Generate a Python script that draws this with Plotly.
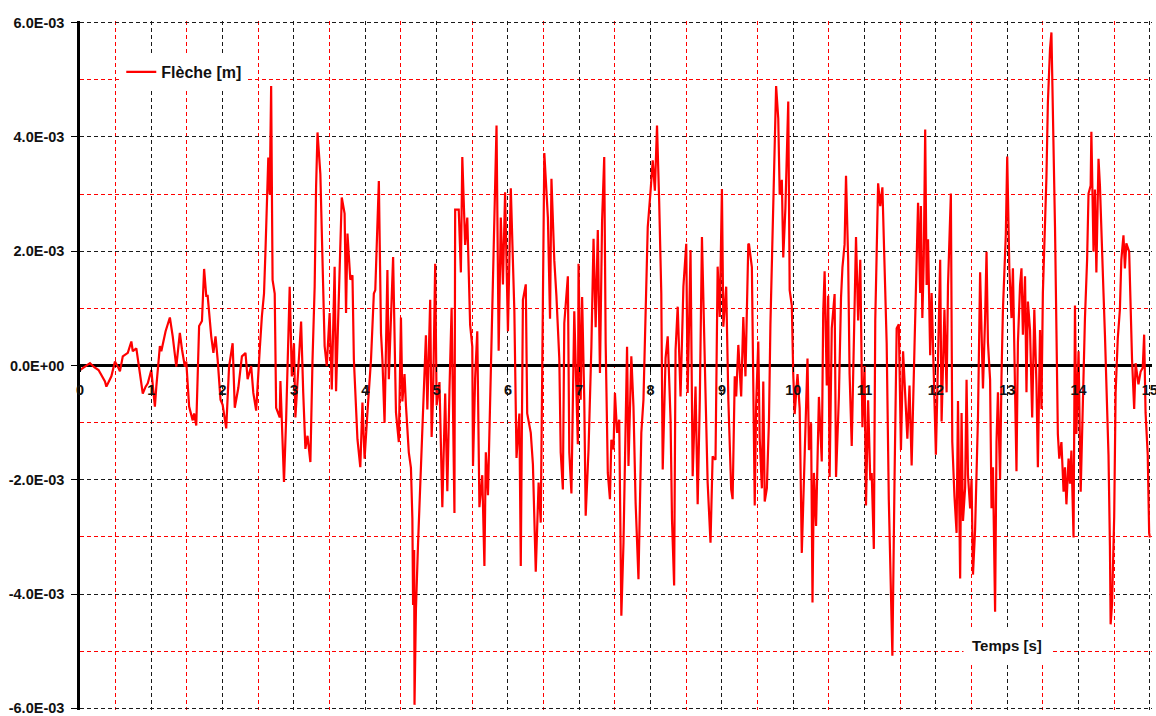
import numpy as np
import plotly.graph_objects as go

# Time [s] and deflection (Flèche) in units of 1E-3 m
TIME_S = [
 0,0.14,0.2,0.26,0.35,0.37,0.44,0.49,0.53,0.56,0.6,0.67,0.72,0.74,0.79,0.84,0.88,0.92,0.95,1.0,
 1.05,1.07,1.12,1.14,1.2,1.26,1.3,1.35,1.4,1.43,1.47,1.49,1.53,1.58,1.6,1.63,1.67,1.71,1.74,1.77,
 1.79,1.84,1.87,1.9,1.93,1.97,2.0,2.05,2.09,
 2.14,2.17,2.22,2.27,2.32,2.35,2.4,2.43,2.47,2.5,2.52,2.55,2.58,2.6,2.64,2.66,2.68,2.7,2.73,2.75,
 2.8,2.81,2.85,2.86,2.89,2.92,2.94,2.97,3.0,3.02,3.06,3.1,3.13,3.16,3.19,3.23,3.26,3.29,3.31,3.33,
 3.37,3.4,3.43,3.46,3.5,3.53,3.57,3.59,3.64,3.67,3.71,3.73,3.75,3.79,3.82,3.84,3.89,3.93,3.96,3.99,
 4.03,4.08,4.12,4.14,4.19,4.22,4.24,4.27,4.31,4.33,4.39,4.43,4.47,
 4.5,4.52,4.55,4.57,4.61,4.64,4.66,4.67,4.685,4.69,4.71,4.74,4.77,4.79,4.81,4.85,4.87,4.91,4.93,4.95,
 4.98,5.0,5.04,5.08,5.12,5.15,5.18,5.21,5.25,5.26,5.31,5.34,5.36,5.4,5.43,5.47,5.5,5.51,5.54,5.57,
 5.6,5.64,5.67,5.69,5.72,5.76,5.79,5.81,5.84,5.87,5.9,5.93,5.96,6.0,6.04,6.09,6.12,6.16,6.18,6.21,
 6.25,6.27,6.32,6.35,6.39,6.43,6.46,6.49,6.51,6.56,6.59,6.61,6.65,6.68,6.72,6.74,6.77,6.79,6.84,6.86,
 6.89,6.93,6.98,
 6.99,7.02,7.04,7.07,7.09,7.13,7.17,7.2,7.23,7.26,7.29,7.32,7.35,7.37,7.4,7.43,7.45,7.48,7.5,7.53,
 7.56,7.59,7.62,7.64,7.67,7.69,7.73,7.76,7.79,7.83,7.87,7.9,7.93,7.96,8.0,8.03,8.06,8.09,8.12,8.15,
 8.17,8.21,8.24,8.28,8.3,8.33,8.35,8.38,8.42,8.46,8.5,8.52,8.56,8.59,8.63,8.66,8.69,8.72,8.77,8.8,
 8.84,8.87,8.91,8.94,8.97,9.0,9.02,9.06,9.09,9.13,9.15,9.18,9.2,9.23,9.27,9.3,9.33,9.37,
 9.38,9.42,9.44,9.46,9.48,9.51,9.53,9.56,9.58,9.6,9.63,9.66,9.68,9.71,9.74,9.76,9.79,9.81,9.84,9.86,
 9.89,9.93,9.95,9.98,10.0,10.02,10.06,10.09,10.12,10.15,10.17,10.2,10.22,10.25,10.27,10.29,10.32,10.36,10.4,10.42,
 10.44,10.47,10.49,10.51,10.54,10.58,10.6,10.64,10.67,10.69,10.72,10.74,10.77,10.79,10.82,10.85,10.88,10.91,10.94,10.97,
 11.0,11.02,11.05,11.08,11.1,11.13,11.15,11.19,11.22,11.25,11.28,11.31,11.34,11.37,11.39,11.42,11.45,11.48,11.51,11.54,
 11.57,11.6,11.63,11.66,11.7,11.73,11.75,
 11.78,11.79,11.81,11.83,11.85,11.87,11.89,11.92,11.94,11.97,12.0,12.02,12.06,12.08,12.12,12.15,12.17,12.21,12.23,12.26,
 12.29,12.31,12.34,12.36,12.38,12.41,12.43,12.45,12.48,12.5,12.52,12.55,12.57,12.59,12.62,12.64,12.66,12.69,12.71,12.73,
 12.76,12.78,12.8,12.83,12.85,12.87,12.9,12.92,12.94,12.98,13.0,13.03,13.06,13.08,13.11,13.13,13.15,13.18,13.2,13.22,
 13.25,13.27,13.29,13.32,13.35,13.38,13.41,13.43,13.46,13.48,13.5,13.53,13.55,13.57,13.6,13.62,13.64,13.67,13.69,13.71,
 13.73,13.76,13.79,13.81,13.83,13.86,13.88,13.9,13.93,13.95,13.97,14.0,14.03,14.07,14.09,14.12,14.14,14.17,14.18,14.21,
 14.23,14.25,14.28,14.3,14.32,14.35,14.37,14.39,14.42,14.44,14.45,14.47,14.5,14.52,14.55,14.58,14.6,14.63,14.65,14.67,
 14.71,14.73,14.75,14.78,14.8,14.84,14.87,14.9,14.92,14.94,14.97,14.99,15.0,
]

FLECHE_MM = [
 -0.08,0.04,-0.03,-0.08,-0.28,-0.37,-0.19,0.07,-0.02,-0.1,0.16,0.22,0.42,0.25,0.3,-0.14,-0.49,-0.37,-0.31,-0.08,
 -0.72,-0.37,0.34,0.25,0.6,0.84,0.51,-0.02,0.57,0.28,-0.02,0.07,-0.72,-0.96,-0.84,-1.05,0.69,0.78,1.69,1.22,
 1.22,0.51,0.22,0.51,0.1,-0.6,-0.69,-1.1,-0.02,
 0.39,-0.74,-0.39,0.16,0.22,-0.24,-0.01,-0.48,-0.79,-0.01,0.28,0.86,1.26,1.99,3.64,3.0,4.89,1.5,1.26,-0.74,
 -0.91,-0.27,-1.87,-2.04,-0.94,0.45,1.38,-0.19,0.39,-0.91,-0.13,0.77,-0.48,-1.46,-1.23,-1.69,0.1,1.38,3.12,4.08,
 3.35,1.73,0.34,-0.01,0.92,-0.42,1.73,-0.45,1.5,2.94,2.66,0.92,2.31,1.5,1.58,0.1,-1.29,-1.78,-0.65,-1.63,
 -0.82,0.1,1.26,1.32,3.23,0.57,0.1,-1.0,1.67,-0.24,1.9,-0.82,-1.34,
 0.84,-0.63,-0.15,-0.7,-1.52,-1.79,-2.68,-4.19,-3.23,-5.94,-4.26,-3.1,-2.14,-1.38,-0.56,0.53,-0.77,1.15,-1.25,-0.56,
 1.78,-0.7,-0.29,-2.48,-0.49,-2.2,-0.42,1.01,-2.58,2.73,2.73,1.63,3.65,2.11,2.59,0.71,0.33,-1.76,-0.22,0.6,
 -2.48,-1.92,-3.51,-1.52,-2.27,-0.01,1.7,2.38,4.2,0.26,2.59,1.42,3.03,0.6,3.1,0.95,-1.62,-0.84,-3.51,1.15,
 1.42,-0.84,-1.18,-1.73,-3.61,-2.05,-2.75,1.12,3.72,2.59,0.82,3.27,1.84,1.21,0.12,-1.52,-2.17,0.74,1.56,-1.52,
 -2.24,0.95,-1.38,
 1.78,-0.6,1.2,-0.6,-2.63,-1.47,0.33,2.22,0.67,2.37,-0.13,2.54,3.65,0.39,-1.88,-2.34,-1.3,-1.47,-0.48,-1.18,
 -0.95,-4.38,-3.1,-1.82,0.33,-1.76,0.16,-0.72,-2.4,-3.74,-1.18,-0.6,0.97,2.42,3.06,3.59,3.06,4.2,2.89,1.26,
 -1.82,0.13,0.51,-0.95,-2.69,-3.85,0.27,1.03,-0.54,1.38,2.13,-0.48,2.02,-1.94,-0.37,-2.43,-0.6,2.25,-0.48,-2.05,
 -3.1,-1.59,-1.65,1.73,0.85,3.09,0.68,1.38,-0.6,-2.17,-2.34,-0.19,-0.54,0.36,-0.54,0.85,-0.19,2.13,
 2.12,1.72,-0.41,-2.45,-0.68,0.42,-1.28,-2.15,-0.28,-2.38,-2.15,-0.95,0.72,2.29,3.32,4.89,4.32,2.99,3.25,1.89,
 2.75,4.62,1.32,1.05,-0.15,-0.85,-0.15,-0.75,-3.28,-2.08,-0.98,0.12,-1.48,-1.01,-4.15,-1.88,-2.81,-0.55,-1.68,0.92,
 1.65,-0.35,1.22,-1.95,0.65,1.25,-1.95,-0.55,1.19,1.72,2.12,3.32,1.85,-0.15,-1.41,0.79,2.25,0.79,1.85,-1.08,
 -0.01,-2.45,-0.61,-2.01,-1.88,-3.21,0.79,3.19,2.79,3.12,1.59,0.39,-2.35,-4.35,-5.08,-2.01,0.65,0.72,-1.48,0.25,
 -0.61,-1.28,-0.35,-1.75,0.32,1.99,2.85,
 1.27,2.79,0.83,1.85,4.13,1.41,2.21,0.18,1.27,-0.18,-1.56,-0.47,1.85,-0.98,0.98,-0.47,1.41,3.01,-1.34,-2.28,
 -2.93,-0.62,-3.73,-0.83,-2.72,-2.14,-0.25,-1.92,-2.5,-1.99,-3.66,-2.86,-2.07,-0.91,1.63,0.69,-0.4,0.83,1.99,0.4,
 -0.25,-2.5,-1.78,-4.31,-1.34,-0.47,-1.99,-0.18,0.98,2.28,3.66,1.7,0.83,1.7,-0.33,-1.85,0.4,1.41,1.7,0.54,
 1.56,-0.47,1.12,0.62,-0.91,0.98,-0.33,-1.78,0.62,-0.76,1.27,2.43,3.3,4.6,5.54,5.83,4.6,2.43,0.62,-1.2,
 -1.63,-1.34,-2.21,-1.78,-2.43,-1.63,-2.07,-1.49,-3.01,1.05,-1.2,0.25,-2.21,0.04,0.83,1.85,3.01,3.15,4.09,1.99,
 3.08,1.63,3.62,3.15,2.21,1.27,0.54,-0.47,-1.56,-3.15,-4.53,-4.17,-2.64,-0.47,0.47,0.98,1.85,2.28,1.7,2.14,
 1.99,1.05,0.11,-0.76,0.04,-0.33,-0.11,-0.04,0.54,-0.83,-1.56,-2.93,-3.01,
]

Y_TICK_VALS_MM = [-6, -4, -2, 0, 2, 4, 6]
Y_TICK_TEXT = ["-6.0E-03", "-4.0E-03", "-2.0E-03", "0.0E+00", "2.0E-03", "4.0E-03", "6.0E-03"]
X_TICK_VALS = list(range(0, 16))
SERIES_NAME = "Flèche [m]"
X_TITLE = "Temps [s]"

y_m = np.array(FLECHE_MM) * 1e-3
ytv = [v * 1e-3 for v in Y_TICK_VALS_MM]

FONT = "Liberation Sans, Arial, sans-serif"
TXT = "#111111"
DASH = "4px,3px"

fig = go.Figure()
fig.add_trace(go.Scatter(
    x=TIME_S, y=y_m, mode="lines", name=SERIES_NAME,
    line=dict(color="#ff0000", width=2.2),
))

pad = 3e-5
fig.update_layout(
    width=1156, height=716,
    margin=dict(l=80, r=4, t=21, b=6, autoexpand=False),
    paper_bgcolor="white", plot_bgcolor="white",
    font=dict(family=FONT, size=14.5, color=TXT, weight="bold"),
    showlegend=True,
    legend=dict(
        x=0.0385, y=0.926, xanchor="left", yanchor="middle",
        bgcolor="white", borderwidth=0,
        font=dict(family=FONT, size=16, color=TXT, weight="bold"),
    ),
    xaxis=dict(
        range=[0, 15 + 0.03], anchor="free", position=0.5, automargin=False,
        tickvals=X_TICK_VALS, ticktext=[str(v) for v in X_TICK_VALS],
        ticks="outside", ticklen=5, tickcolor="black", ticklabelstandoff=6,
        ticklabeloverflow="allow",
        showline=False, zeroline=False,
        showgrid=True, gridcolor="#1a1a1a", griddash=DASH, gridwidth=1,
        minor=dict(dtick=0.5, showgrid=True, gridcolor="#ff0000", griddash=DASH, gridwidth=1),
        tickfont=dict(family=FONT, size=14.5, color=TXT, weight="bold"),
    ),
    yaxis=dict(
        range=[-6e-3 - pad, 6e-3 + pad], automargin=False,
        tickvals=ytv, ticktext=Y_TICK_TEXT,
        ticks="outside", ticklen=6, tickcolor="black", ticklabelstandoff=4,
        ticklabeloverflow="allow",
        showline=True, linecolor="black", linewidth=2.5,
        zeroline=True, zerolinecolor="black", zerolinewidth=2.5,
        showgrid=True, gridcolor="#1a1a1a", griddash=DASH, gridwidth=1,
        minor=dict(dtick=1e-3, tick0=0, showgrid=True, gridcolor="#ff0000", griddash=DASH, gridwidth=1),
        tickfont=dict(family=FONT, size=14.5, color=TXT, weight="bold"),
    ),
)

fig.add_annotation(
    x=0.865, y=0.094, xref="paper", yref="paper",
    xanchor="center", yanchor="middle",
    text=X_TITLE, showarrow=False,
    font=dict(family=FONT, size=15, color=TXT, weight="bold"),
    bgcolor="white", borderpad=8,
)

fig.write_html(
    "out.html",
    config={"displayModeBar": False},
    post_script="document.body.style.margin='0';document.body.style.overflow='hidden';",
)
